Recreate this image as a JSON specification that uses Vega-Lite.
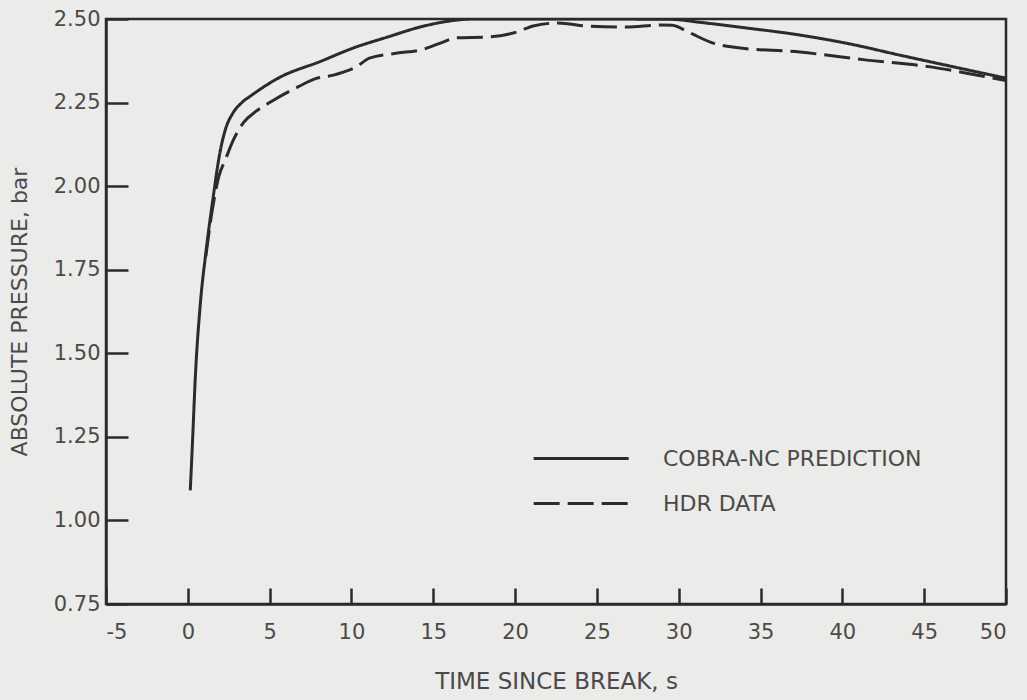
{
  "$schema": "https://vega.github.io/schema/vega-lite/v6.json",
  "width": 900,
  "height": 585,
  "autosize": "none",
  "padding": {"left": 106, "top": 19, "right": 21, "bottom": 96},
  "background": "#ebebe9",
  "config": {
    "view": {"stroke": "#2b2b2b", "strokeWidth": 2.5},
    "font": "DejaVu Sans",
    "axis": {
      "domainColor": "#2b2b2b",
      "domainWidth": 2.5,
      "tickColor": "#2b2b2b",
      "tickWidth": 2.5,
      "grid": false,
      "labelColor": "#4a4a4a",
      "labelFont": "DejaVu Sans",
      "labelFontSize": 21,
      "titleColor": "#4a4a4a",
      "titleFont": "DejaVu Sans",
      "titleFontWeight": "normal"
    }
  },
  "data": {
    "values": [
      {"series": "COBRA-NC PREDICTION", "t": 0.15, "p": 1.09},
      {"series": "COBRA-NC PREDICTION", "t": 0.3, "p": 1.25},
      {"series": "COBRA-NC PREDICTION", "t": 0.45, "p": 1.42},
      {"series": "COBRA-NC PREDICTION", "t": 0.75, "p": 1.64},
      {"series": "COBRA-NC PREDICTION", "t": 1.1, "p": 1.80},
      {"series": "COBRA-NC PREDICTION", "t": 1.53, "p": 1.96},
      {"series": "COBRA-NC PREDICTION", "t": 1.96, "p": 2.1},
      {"series": "COBRA-NC PREDICTION", "t": 2.3, "p": 2.17},
      {"series": "COBRA-NC PREDICTION", "t": 2.75, "p": 2.218},
      {"series": "COBRA-NC PREDICTION", "t": 3.3, "p": 2.25},
      {"series": "COBRA-NC PREDICTION", "t": 3.9, "p": 2.272},
      {"series": "COBRA-NC PREDICTION", "t": 5.6, "p": 2.325},
      {"series": "COBRA-NC PREDICTION", "t": 8.1, "p": 2.373},
      {"series": "COBRA-NC PREDICTION", "t": 10.1, "p": 2.413},
      {"series": "COBRA-NC PREDICTION", "t": 12.2, "p": 2.446},
      {"series": "COBRA-NC PREDICTION", "t": 14.2, "p": 2.476},
      {"series": "COBRA-NC PREDICTION", "t": 16.0, "p": 2.494},
      {"series": "COBRA-NC PREDICTION", "t": 17.5, "p": 2.5},
      {"series": "COBRA-NC PREDICTION", "t": 24.0, "p": 2.5},
      {"series": "COBRA-NC PREDICTION", "t": 29.5, "p": 2.499},
      {"series": "COBRA-NC PREDICTION", "t": 31.3, "p": 2.49},
      {"series": "COBRA-NC PREDICTION", "t": 34.0, "p": 2.474},
      {"series": "COBRA-NC PREDICTION", "t": 37.4, "p": 2.452},
      {"series": "COBRA-NC PREDICTION", "t": 40.5, "p": 2.425},
      {"series": "COBRA-NC PREDICTION", "t": 43.5, "p": 2.392},
      {"series": "COBRA-NC PREDICTION", "t": 46.5, "p": 2.36},
      {"series": "COBRA-NC PREDICTION", "t": 50.0, "p": 2.323},
      {"series": "HDR DATA", "t": 1.1, "p": 1.79},
      {"series": "HDR DATA", "t": 1.5, "p": 1.93},
      {"series": "HDR DATA", "t": 1.9, "p": 2.03},
      {"series": "HDR DATA", "t": 2.3, "p": 2.08},
      {"series": "HDR DATA", "t": 2.8, "p": 2.14},
      {"series": "HDR DATA", "t": 3.4, "p": 2.19},
      {"series": "HDR DATA", "t": 4.2, "p": 2.225},
      {"series": "HDR DATA", "t": 5.0, "p": 2.25},
      {"series": "HDR DATA", "t": 6.7, "p": 2.296},
      {"series": "HDR DATA", "t": 7.9, "p": 2.323},
      {"series": "HDR DATA", "t": 8.9, "p": 2.332},
      {"series": "HDR DATA", "t": 9.5, "p": 2.341},
      {"series": "HDR DATA", "t": 10.3, "p": 2.357},
      {"series": "HDR DATA", "t": 11.1, "p": 2.383},
      {"series": "HDR DATA", "t": 12.8, "p": 2.398},
      {"series": "HDR DATA", "t": 14.2, "p": 2.407},
      {"series": "HDR DATA", "t": 15.6, "p": 2.431},
      {"series": "HDR DATA", "t": 16.4, "p": 2.444},
      {"series": "HDR DATA", "t": 18.3, "p": 2.446},
      {"series": "HDR DATA", "t": 20.1, "p": 2.461},
      {"series": "HDR DATA", "t": 21.1, "p": 2.479},
      {"series": "HDR DATA", "t": 22.6, "p": 2.488},
      {"series": "HDR DATA", "t": 24.6, "p": 2.478},
      {"series": "HDR DATA", "t": 26.8, "p": 2.476},
      {"series": "HDR DATA", "t": 28.9, "p": 2.482},
      {"series": "HDR DATA", "t": 29.6, "p": 2.481},
      {"series": "HDR DATA", "t": 30.7, "p": 2.458},
      {"series": "HDR DATA", "t": 32.1, "p": 2.428},
      {"series": "HDR DATA", "t": 33.3, "p": 2.416},
      {"series": "HDR DATA", "t": 37.4, "p": 2.401},
      {"series": "HDR DATA", "t": 41.5, "p": 2.377},
      {"series": "HDR DATA", "t": 45.5, "p": 2.356},
      {"series": "HDR DATA", "t": 47.6, "p": 2.338},
      {"series": "HDR DATA", "t": 50.0, "p": 2.316}
    ]
  },
  "mark": {"type": "line", "color": "#2b2b2b", "strokeWidth": 3, "interpolate": "monotone", "clip": true},
  "encoding": {
    "x": {
      "field": "t",
      "type": "quantitative",
      "scale": {"domain": [-5, 50], "nice": false, "zero": false},
      "axis": {
        "values": [-5, 0, 5, 10, 15, 20, 25, 30, 35, 40, 45, 50],
        "labelExpr": "replace(datum.label, '\u2212', '-')",
        "tickSize": -16,
        "labelPadding": 33,
        "title": "TIME SINCE BREAK, s",
        "titleFontSize": 23,
        "titlePadding": 28
      }
    },
    "y": {
      "field": "p",
      "type": "quantitative",
      "scale": {"domain": [0.75, 2.5], "nice": false, "zero": false},
      "axis": {
        "values": [0.75, 1.0, 1.25, 1.5, 1.75, 2.0, 2.25, 2.5],
        "format": ".2f",
        "tickSize": -22,
        "labelPadding": 28,
        "title": "ABSOLUTE PRESSURE, bar",
        "titleFontSize": 22,
        "titlePadding": 22
      }
    },
    "strokeDash": {
      "field": "series",
      "type": "nominal",
      "scale": {"domain": ["COBRA-NC PREDICTION", "HDR DATA"], "range": [[1, 0], [26, 8]]},
      "legend": {
        "orient": "none",
        "legendX": 426,
        "legendY": 422,
        "title": null,
        "symbolType": "M-1,0H5",
        "symbolSize": 1003,
        "symbolStrokeWidth": 3,
        "symbolStrokeColor": "#2b2b2b",
        "labelFontSize": 22,
        "labelColor": "#4a4a4a",
        "labelLimit": 500,
        "labelOffset": 96,
        "rowPadding": 16
      }
    }
  }
}
